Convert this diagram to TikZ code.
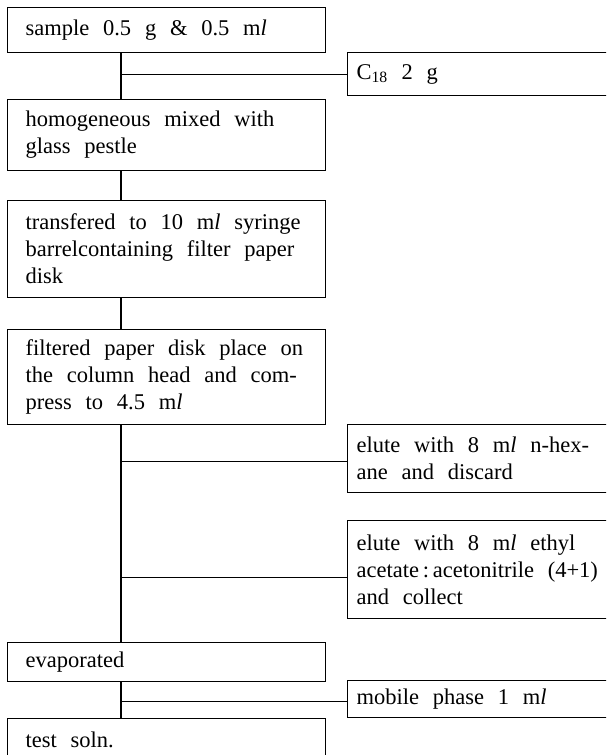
\documentclass[tikz,border=0pt]{standalone}
\usepackage{fontspec}
\setmainfont{Liberation Serif}[WordSpace={2.45,1.5,0.8}]
\usepackage{tikz}
\tikzset{
  every node/.style = {draw=black, line width=1.2pt, anchor=north west,
    font=\fontsize{22.5}{27}\selectfont},
  leftbox/.style = {text width=282pt, inner xsep=18pt, inner ysep=4pt, align=flush left},
  rightbox/.style = {text width=260pt, inner xsep=9pt, inner ysep=4pt, align=flush left},
}
\newcommand{\mlunit}{m\textit{l}}

\begin{document}
\begin{tikzpicture}[x=1pt, y=-1pt, line width=1.2pt]
            \clip (0,0) rectangle (606,755);
            \coordinate (trunk) at (121,0);
            % main column
            \node[leftbox, minimum height=45pt] (sample) at (7,7)
                {sample 0.5 g \& 0.5 \mlunit};
            \node[leftbox, minimum height=71pt] (mixed) at (7,99)
                {homogeneous mixed with\\glass pestle};
            \node[leftbox, minimum height=97pt] (syringe) at (7,200)
                {transfered to 10 \mlunit{} syringe\\barrelcontaining filter paper\\disk};
            \node[leftbox, minimum height=95pt] (disk) at (7,329)
                {filtered paper disk place on\\the column head and com-\\press to 4.5 \mlunit};
            \node[leftbox, minimum height=39pt] (evap) at (7,642)
                {evaporated};
            \node[leftbox, minimum height=42pt] (soln) at (7,718)
                {test soln.};
            % side inputs
            \node[rightbox, minimum height=43pt] (cee) at (347,52)
                {C\textsubscript{18} 2 g};
            \node[rightbox, minimum height=68pt] (hexane) at (347,424)
                {elute with 8 \mlunit{} n-hex-\\ane and discard};
            \node[rightbox, minimum height=98pt] (ethyl) at (347,520)
                {elute with 8 \mlunit{} ethyl\\acetate\,:\,acetonitrile (4+1)\\and collect};
            \node[rightbox, minimum height=37pt] (mobile) at (347,680)
                {mobile phase 1 \mlunit};
            \coordinate (hexane in) at ([yshift=-3pt]hexane.west);
            \coordinate (ethyl in) at ([yshift=-8pt]ethyl.west);
            \coordinate (mobile in) at ([yshift=-2pt]mobile.west);
            % connectors
            \draw (trunk |- sample.south) -- (trunk |- mixed.north);
            \draw (trunk |- mixed.south) -- (trunk |- syringe.north);
            \draw (trunk |- syringe.south) -- (trunk |- disk.north);
            \draw (trunk |- disk.south) -- (trunk |- evap.north);
            \draw (trunk |- evap.south) -- (trunk |- soln.north);
            \draw (trunk |- cee.west) -- (cee.west);
            \draw (trunk |- hexane in) -- (hexane in);
            \draw (trunk |- ethyl in) -- (ethyl in);
            \draw (trunk |- mobile in) -- (mobile in);
\end{tikzpicture}
\end{document}
